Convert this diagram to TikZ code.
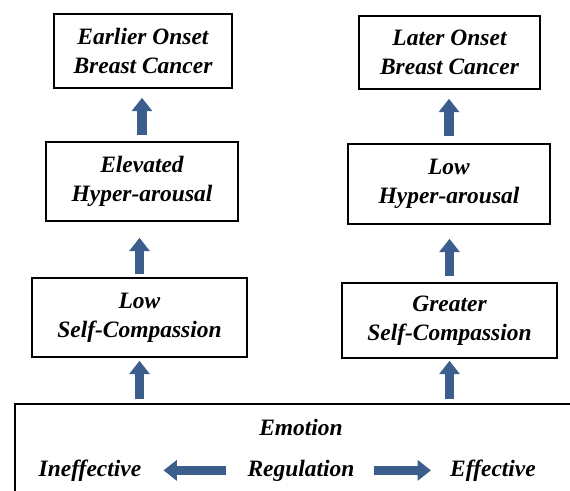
\documentclass[tikz,border=0pt]{standalone}
\usepackage{fontspec}
\setmainfont{Liberation Serif}
\usetikzlibrary{arrows.meta}
\definecolor{arrowblue}{RGB}{59,94,140}
\begin{document}
\begin{tikzpicture}[
    x=0.75pt, y=-0.75pt,
    stage/.style={rectangle, draw, line width=1.2pt, align=center, inner sep=0pt, font=\bfseries\itshape\fontsize{17.6}{21.8}\selectfont},
    label/.style={inner sep=0pt, anchor=base, font=\bfseries\itshape\fontsize{17.6}{21.8}\selectfont},
    blockarrow/.style={arrowblue, line width=7pt, -{Triangle[width=15pt, length=10pt]}}
  ]
    \path[use as bounding box, clip] (0,0) rectangle (570,490);

    % Left column
    \node[stage, minimum width=133.5pt, minimum height=55.5pt] (earlier) at (143, 51) {Earlier Onset\\Breast Cancer};
    \node[stage, minimum width=144pt, minimum height=59.25pt] (elevated) at (142, 181.5) {Elevated\\Hyper-arousal};
    \node[stage, minimum width=161.25pt, minimum height=59.25pt] (lowsc) at (139.5, 317.5) {Low\\Self-Compassion};

    % Right column
    \node[stage, minimum width=135.75pt, minimum height=54.75pt] (later) at (449.5, 52.5) {Later Onset\\Breast Cancer};
    \node[stage, minimum width=151.5pt, minimum height=60pt] (lowhyper) at (449, 184) {Low\\Hyper-arousal};
    \node[stage, minimum width=161.25pt, minimum height=56.25pt] (greatersc) at (449.5, 320.5) {Greater\\Self-Compassion};

    % Emotion regulation box
    \node[rectangle, draw, line width=1.5pt, minimum width=438.75pt, minimum height=87pt] (regbox) at (307.5, 462) {};
    \node[label] (emotion) at (301, 435) {Emotion};
    \node[label] (regulation) at (301, 476) {Regulation};
    \node[label] (ineffective) at (90, 476) {Ineffective};
    \node[label] (effective) at (493, 476) {Effective};

    % Arrows
    \draw[blockarrow, shorten <=4.5pt, shorten >=6.75pt] (elevated.north) -- (elevated.north |- earlier.south);
    \draw[blockarrow, shorten <=2.25pt, shorten >=12pt] (lowsc.north) -- (lowsc.north |- elevated.south);
    \draw[blockarrow, shorten <=3pt, shorten >=2.25pt] (lowsc.south |- regbox.north) -- (lowsc.south);
    \draw[blockarrow, shorten <=5.25pt, shorten >=6.75pt] (lowhyper.north) -- (lowhyper.north |- later.south);
    \draw[blockarrow, shorten <=4.5pt, shorten >=10.5pt] (greatersc.north) -- (greatersc.north |- lowhyper.south);
    \draw[blockarrow, shorten <=3pt, shorten >=1.5pt] (greatersc.south |- regbox.north) -- (greatersc.south);
    \draw[blockarrow, shorten <=15.75pt, shorten >=16.5pt] (regulation.west) -- (regulation.west -| ineffective.east);
    \draw[blockarrow, shorten <=14.25pt, shorten >=14.25pt] (regulation.east) -- (regulation.east -| effective.west);
\end{tikzpicture}
\end{document}
